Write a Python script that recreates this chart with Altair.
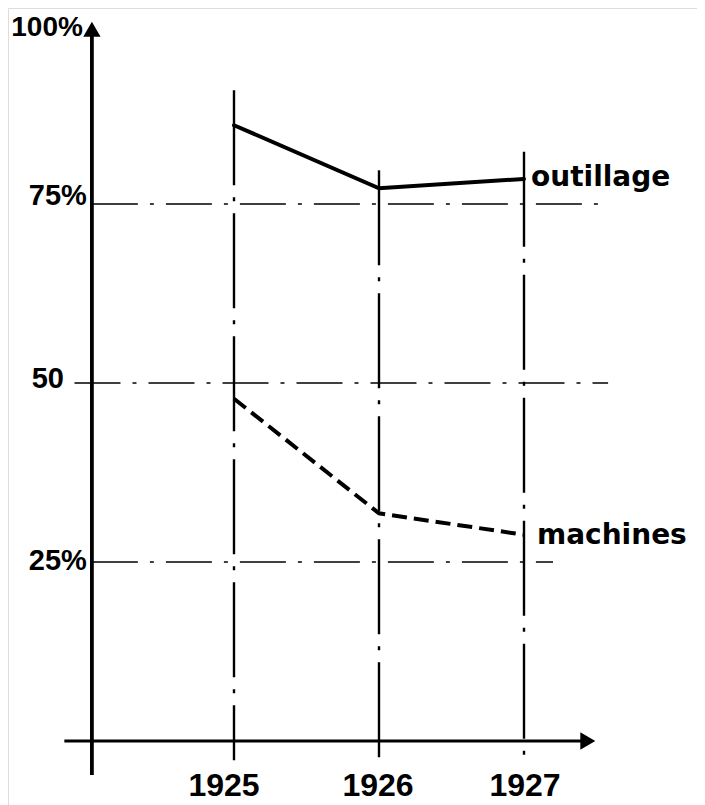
import altair as alt
import pandas as pd

# ---- data ----
years = [1925, 1926, 1927]
outillage = [86.0, 77.2, 78.5]
machines = [47.8, 31.8, 28.8]
y_ticks = [25, 50, 75]
y_tick_labels = ["25%", "50", "75%"]
top_label = "100%"
series_names = ["outillage", "machines"]

# ---- layout / style (not data) ----
W, H = 689, 797
X0, X1 = 1923.4414, 1928.1931
Y0, Y1 = -8.94, 102.37
AXIS_X = 1924.02          # position of the vertical axis, in year units
x_scale = alt.Scale(domain=[X0, X1], nice=False, zero=False)
y_scale = alt.Scale(domain=[Y0, Y1], nice=False, zero=False)
FONT_NUM = "Liberation Sans"
FONT_TXT = "DejaVu Sans"

def X(field, **kw):
    return alt.X(field, type="quantitative", scale=x_scale, axis=None, **kw)

def Y(field, **kw):
    return alt.Y(field, type="quantitative", scale=y_scale, axis=None, **kw)

# series lines
df_out = pd.DataFrame({"year": years, "v": outillage})
df_mac = pd.DataFrame({"year": years, "v": machines})

line_out = alt.Chart(df_out).mark_line(color="black", strokeWidth=4, strokeCap="round").encode(
    x=X("year"), y=Y("v"))
line_mac = alt.Chart(df_mac).mark_line(color="black", strokeWidth=4, strokeDash=[15, 7]).encode(
    x=X("year"), y=Y("v"))

# horizontal dash-dot guide lines
grid_start = [AXIS_X, 1923.90, AXIS_X]
grid_end = [1927.20, 1927.58, 1927.56]
df_grid = pd.DataFrame({"v": y_ticks, "x1": grid_start, "x2": grid_end})
grid = alt.Chart(df_grid).mark_rule(color="black", strokeWidth=1.6, strokeDash=[46, 12, 4, 12]).encode(
    x=X("x1"), x2="x2", y=Y("v"))

# vertical dash-dot year lines
vtop = [90.9, 79.7, 82.3]
vbot = [-2.7, -3.4, -2.7]
df_v = pd.DataFrame({"year": years, "top": vtop, "bot": vbot})
vlines = alt.Chart(df_v).mark_rule(color="black", strokeWidth=2.4, strokeDash=[95, 12, 4, 12]).encode(
    x=X("year"), y=Y("top"), y2="bot")

# axes
df_yaxis = pd.DataFrame({"x": [AXIS_X], "y1": [-4.75], "y2": [99.0]})
yaxis = alt.Chart(df_yaxis).mark_rule(color="black", strokeWidth=3.8).encode(
    x=X("x"), y=Y("y1"), y2="y2")
df_xaxis = pd.DataFrame({"x1": [1923.83], "x2": [1927.40], "y": [0.0]})
xaxis = alt.Chart(df_xaxis).mark_rule(color="black", strokeWidth=2.8).encode(
    x=X("x1"), x2="x2", y=Y("y"))

arrow_up = alt.Chart(pd.DataFrame({"x": [AXIS_X], "y": [99.4]})).mark_point(
    shape="triangle-up", filled=True, color="black", size=300, opacity=1).encode(x=X("x"), y=Y("y"))
arrow_right = alt.Chart(pd.DataFrame({"x": [1927.44], "y": [0.0]})).mark_point(
    shape="triangle-right", filled=True, color="black", size=300, opacity=1).encode(x=X("x"), y=Y("y"))

# y tick labels
df_ylab = pd.DataFrame({"v": y_ticks, "label": y_tick_labels, "x": [AXIS_X] * 3,
                        "dx": [-5, -28, -5], "dy": [8, 5, 1]})
ylabels = []
for _, r in df_ylab.iterrows():
    ylabels.append(alt.Chart(pd.DataFrame([r])).mark_text(
        font=FONT_NUM, fontSize=29, fontWeight="bold", align="right", baseline="alphabetic",
        dx=int(r["dx"]), dy=int(r["dy"]), color="black").encode(x=X("x"), y=Y("v"), text="label:N"))
toplab = alt.Chart(pd.DataFrame({"x": [AXIS_X], "v": [100.0], "label": [top_label]})).mark_text(
    font=FONT_NUM, fontSize=28, fontWeight="bold", align="right", baseline="alphabetic", dx=-9, dy=11,
    color="black").encode(x=X("x"), y=Y("v"), text="label:N")

# year labels
df_xlab = pd.DataFrame({"year": years, "label": [str(y) for y in years], "y": [0.0] * 3,
                        "dx": [-10, -1, 1]})
xlabels = []
for _, r in df_xlab.iterrows():
    xlabels.append(alt.Chart(pd.DataFrame([r])).mark_text(
        font=FONT_NUM, fontSize=32, fontWeight="bold", align="center", baseline="alphabetic",
        dx=int(r["dx"]), dy=55, color="black").encode(x=X("year"), y=Y("y"), text="label:N"))

# series names at line ends
df_names = pd.DataFrame({"year": [1927, 1927], "v": [outillage[-1], machines[-1]],
                         "label": series_names, "dx": [7, 13], "dy": [7, 9]})
names = []
for _, r in df_names.iterrows():
    names.append(alt.Chart(pd.DataFrame([r])).mark_text(
        font=FONT_TXT, fontSize=28, fontWeight="bold", align="left", baseline="alphabetic",
        dx=int(r["dx"]), dy=int(r["dy"]), color="black").encode(x=X("year"), y=Y("v"), text="label:N"))

chart = alt.layer(grid, vlines, yaxis, xaxis, arrow_up, arrow_right, line_out, line_mac,
                  *ylabels, toplab, *xlabels, *names).properties(
    width=W, height=H, autosize=alt.AutoSizeParams(type="none"), padding=0
).configure_view(stroke="transparent", strokeWidth=0).configure(background="white")

chart.save("out.html", embed_options={"renderer": "svg", "actions": False})
